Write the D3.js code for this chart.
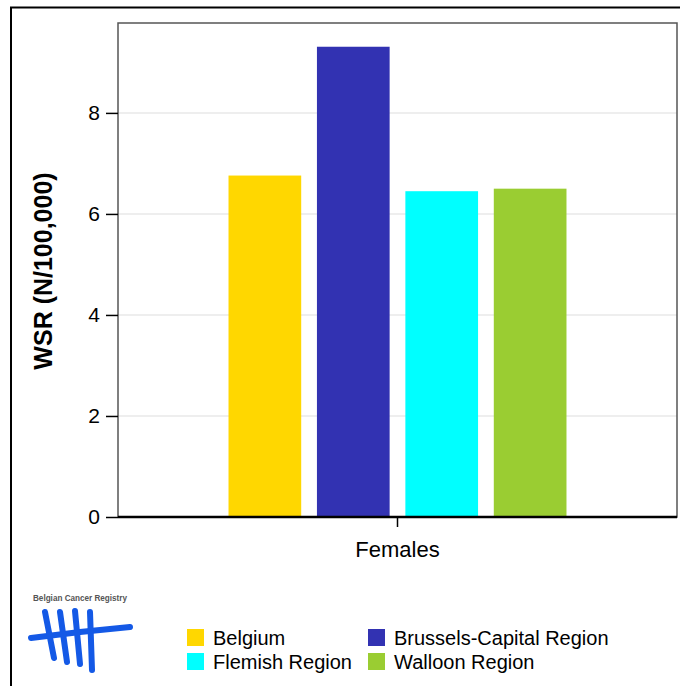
<!DOCTYPE html>
<html>
<head>
<meta charset="utf-8">
<script src="https://cdn.jsdelivr.net/npm/d3@7"></script>
<style>
  body { margin: 0; background: #fff; }
  svg { display: block; font-family: "Liberation Sans", Arial, sans-serif; }
  .grid line { stroke: #e8e8e8; stroke-width: 1.5; }
</style>
</head>
<body>
<script>
  // data
  let categories = ['Females'];
  let seriesNames = ['Belgium', 'Brussels-Capital Region', 'Flemish Region', 'Walloon Region'];
  let seriesColors = ['#ffd700', '#3232b2', '#00ffff', '#9acd32'];
  let females = [6.76, 9.31, 6.45, 6.50];
  let yTicks = [0, 2, 4, 6, 8];

  let svg = d3.select('body').append('svg')
    .attr('width', 680)
    .attr('height', 686);

  // outer frame (runs off the right and bottom)
  svg.append('rect')
    .attr('x', 11).attr('y', 7.5)
    .attr('width', 700).attr('height', 700)
    .attr('fill', 'none').attr('stroke', '#000').attr('stroke-width', 2);

  let plot = { left: 118, right: 677, top: 23, bottom: 517 };

  let y = d3.scaleLinear()
    .domain([0, 9.78])
    .range([plot.bottom, plot.top]);

  let x0 = d3.scaleBand()
    .domain(categories)
    .range([plot.left, plot.right])
    .paddingOuter(0.327);

  let x1 = d3.scaleBand()
    .domain(seriesNames)
    .range([0, x0.bandwidth()])
    .paddingInner(0.178);

  // gridlines
  svg.append('g')
    .attr('class', 'grid')
    .selectAll('line')
    .data(yTicks.filter(function(d) { return d > 0; }))
    .enter()
    .append('line')
    .attr('x1', plot.left).attr('x2', plot.right)
    .attr('y1', function(d) { return y(d); })
    .attr('y2', function(d) { return y(d); });

  // bars
  let group = svg.selectAll('.cat')
    .data(categories)
    .enter()
    .append('g')
    .attr('class', 'cat')
    .attr('transform', function(d) { return 'translate(' + x0(d) + ',0)'; });

  group.selectAll('rect')
    .data(function() {
      return seriesNames.map(function(s, i) {
        return { name: s, value: females[i], color: seriesColors[i] };
      });
    })
    .enter()
    .append('rect')
    .attr('x', function(d) { return x1(d.name); })
    .attr('width', x1.bandwidth())
    .attr('y', function(d) { return y(d.value); })
    .attr('height', function(d) { return y(0) - y(d.value); })
    .attr('fill', function(d) { return d.color; });

  // plot frame
  svg.append('rect')
    .attr('x', plot.left).attr('y', plot.top)
    .attr('width', plot.right - plot.left)
    .attr('height', plot.bottom - plot.top)
    .attr('fill', 'none').attr('stroke', '#555').attr('stroke-width', 1.5);

  // y axis
  let yAxis = svg.append('g')
    .attr('transform', 'translate(' + plot.left + ',0)')
    .call(d3.axisLeft(y).tickValues(yTicks).tickSize(12).tickPadding(6).tickFormat(d3.format('d')));
  yAxis.select('.domain').remove();
  yAxis.selectAll('.tick line').attr('stroke', '#000').attr('stroke-width', 1.5);
  yAxis.selectAll('.tick text').attr('font-size', 21).attr('fill', '#000')
    .attr('font-family', '"Liberation Sans", Arial, sans-serif');

  // x axis
  let xAxis = svg.append('g')
    .attr('transform', 'translate(0,' + plot.bottom + ')')
    .call(d3.axisBottom(x0).tickSize(10).tickPadding(14));
  xAxis.select('.domain').attr('d', 'M' + plot.left + ',0H' + plot.right)
    .attr('stroke', '#000').attr('stroke-width', 2.5);
  xAxis.selectAll('.tick line').attr('stroke', '#000').attr('stroke-width', 1.5);
  xAxis.selectAll('.tick text').attr('font-size', 22).attr('fill', '#000')
    .attr('font-family', '"Liberation Sans", Arial, sans-serif');

  // y title
  svg.append('text')
    .attr('transform', 'translate(52,271) rotate(-90)')
    .attr('text-anchor', 'middle')
    .attr('font-size', 25)
    .attr('font-weight', 'bold')
    .text('WSR (N/100,000)');

  // logo
  let logo = svg.append('g').attr('transform', 'translate(0,0)');
  logo.append('text')
    .attr('x', 33).attr('y', 601)
    .attr('font-size', 8.5)
    .attr('font-weight', 'bold')
    .attr('textLength', 94)
    .attr('lengthAdjust', 'spacingAndGlyphs')
    .attr('fill', '#555')
    .text('Belgian Cancer Registry');
  let blue = '#1459e6';
  let strokes = [
    [[31, 638], [80, 632], [130, 627]],
    [[45, 612], [54, 658]],
    [[60, 612], [67, 662]],
    [[75, 611], [80, 664]],
    [[90, 612], [92, 670]]
  ];
  logo.selectAll('path')
    .data(strokes)
    .enter()
    .append('path')
    .attr('d', d3.line())
    .attr('fill', 'none')
    .attr('stroke', blue)
    .attr('stroke-width', 6)
    .attr('stroke-linecap', 'round');

  // legend
  let legendPos = [[187, 629], [368, 629], [187, 653], [368, 653]];
  let legend = svg.selectAll('.legend')
    .data(seriesNames)
    .enter()
    .append('g')
    .attr('class', 'legend')
    .attr('transform', function(d, i) { return 'translate(' + legendPos[i][0] + ',' + legendPos[i][1] + ')'; });
  legend.append('rect')
    .attr('width', 17).attr('height', 17)
    .attr('fill', function(d, i) { return seriesColors[i]; });
  legend.append('text')
    .attr('x', 26).attr('y', 16)
    .attr('font-size', 20)
    .text(function(d) { return d; });
</script>
</body>
</html>
